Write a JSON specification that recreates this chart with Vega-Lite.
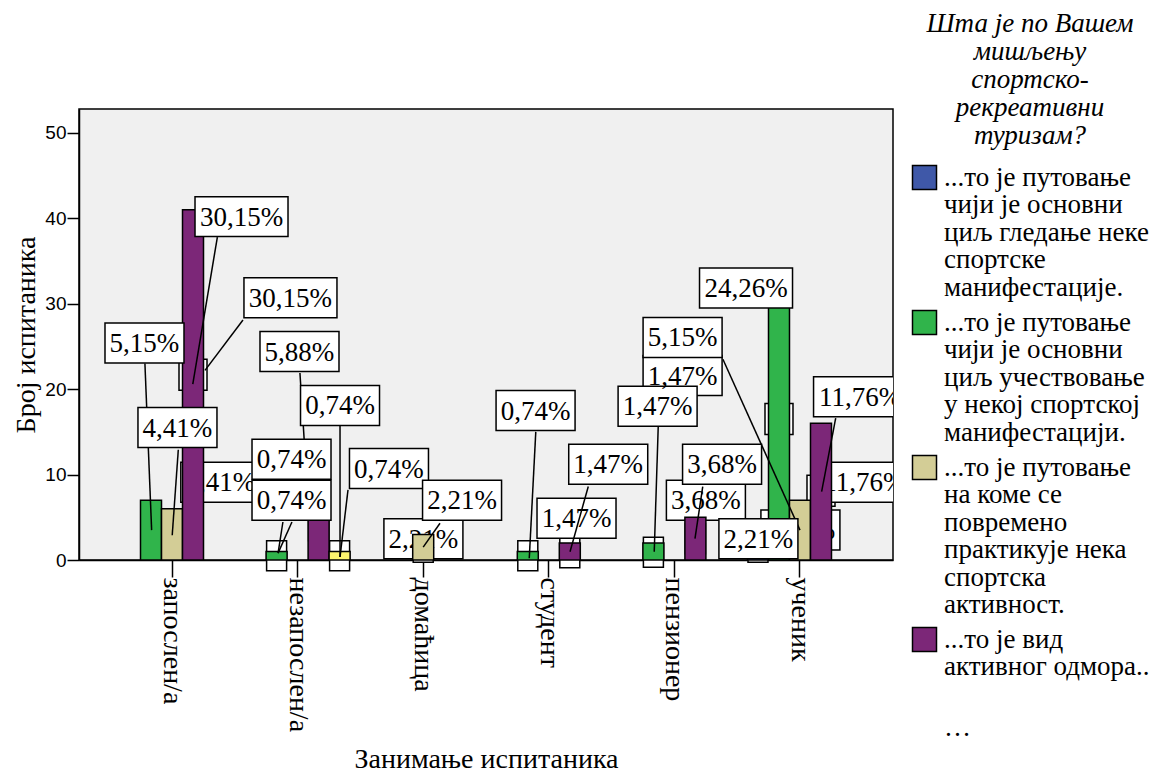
{
  "$schema": "https://vega.github.io/schema/vega-lite/v6.json",
  "width": 814,
  "height": 451,
  "padding": {"left": 12, "top": 11, "right": 0, "bottom": 0},
  "background": "white",
  "config": {
    "view": {"fill": "#f0f0f0", "stroke": "black", "strokeWidth": 1.5},
    "axis": {"domainColor": "black", "tickColor": "black", "labelColor": "black", "titleColor": "black", "grid": false, "titleFontWeight": "normal", "tickWidth": 1.5, "domainWidth": 1.5}
  },
  "datasets": {
    "bars": [
      {"cat": "запослен/а", "series": "...то је путовање\nчији је основни\nциљ учествовање\nу некој спортској\nманифестацији.", "v": 7},
      {"cat": "запослен/а", "series": "...то је путовање\nна коме се\nповремено\nпрактикује нека\nспортска\nактивност.", "v": 6},
      {"cat": "запослен/а", "series": "...то је вид\nактивног одмора..", "v": 41},
      {"cat": "незапослен/а", "series": "...то је путовање\nчији је основни\nциљ учествовање\nу некој спортској\nманифестацији.", "v": 1},
      {"cat": "незапослен/а", "series": "...то је вид\nактивног одмора..", "v": 8},
      {"cat": "незапослен/а", "series": "…", "v": 1},
      {"cat": "домаћица", "series": "...то је путовање\nна коме се\nповремено\nпрактикује нека\nспортска\nактивност.", "v": 3},
      {"cat": "студент", "series": "...то је путовање\nчији је основни\nциљ учествовање\nу некој спортској\nманифестацији.", "v": 1},
      {"cat": "студент", "series": "...то је вид\nактивног одмора..", "v": 2},
      {"cat": "пензионер", "series": "...то је путовање\nчији је основни\nциљ учествовање\nу некој спортској\nманифестацији.", "v": 2},
      {"cat": "пензионер", "series": "...то је вид\nактивног одмора..", "v": 5},
      {"cat": "ученик", "series": "...то је путовање\nчији је основни\nциљ гледање неке\nспортске\nманифестације.", "v": 3},
      {"cat": "ученик", "series": "...то је путовање\nчији је основни\nциљ учествовање\nу некој спортској\nманифестацији.", "v": 33},
      {"cat": "ученик", "series": "...то је путовање\nна коме се\nповремено\nпрактикује нека\nспортска\nактивност.", "v": 7},
      {"cat": "ученик", "series": "...то је вид\nактивног одмора..", "v": 16}
    ],
    "labels": [
      {"cat": "запослен/а", "s": 3.31, "v": 40.2, "t": "30,15%", "z": "top"},
      {"cat": "незапослен/а", "s": -0.34, "v": 30.7, "t": "30,15%", "z": "top"},
      {"cat": "запослен/а", "s": -1.31, "v": 25.4, "t": "5,15%", "z": "top"},
      {"cat": "запослен/а", "s": 0.26, "v": 15.5, "t": "4,41%", "z": "top"},
      {"cat": "запослен/а", "s": 2.3, "v": 9.1, "t": "4,41%", "z": "under"},
      {"cat": "незапослен/а", "s": -0.29, "v": 11.8, "t": "0,74%", "z": "top"},
      {"cat": "незапослен/а", "s": -0.29, "v": 7.0, "t": "0,74%", "z": "top"},
      {"cat": "незапослен/а", "s": 0.09, "v": 24.4, "t": "5,88%", "z": "top"},
      {"cat": "незапослен/а", "s": 2.02, "v": 18.1, "t": "0,74%", "z": "top"},
      {"cat": "домаћица", "s": -1.63, "v": 10.7, "t": "0,74%", "z": "top"},
      {"cat": "домаћица", "s": 1.85, "v": 7.0, "t": "2,21%", "z": "top"},
      {"cat": "домаћица", "s": 0.01, "v": 2.5, "t": "2,21%", "z": "under"},
      {"cat": "студент", "s": -0.63, "v": 17.5, "t": "0,74%", "z": "top"},
      {"cat": "студент", "s": 2.83, "v": 11.2, "t": "1,47%", "z": "top"},
      {"cat": "студент", "s": 1.32, "v": 4.9, "t": "1,47%", "z": "under"},
      {"cat": "пензионер", "s": 0.39, "v": 21.6, "t": "1,47%", "z": "top"},
      {"cat": "пензионер", "s": -0.8, "v": 18.0, "t": "1,47%", "z": "top"},
      {"cat": "пензионер", "s": 0.39, "v": 26.05, "t": "5,15%", "z": "top"},
      {"cat": "пензионер", "s": 2.27, "v": 11.2, "t": "3,68%", "z": "top"},
      {"cat": "пензионер", "s": 1.5, "v": 7.0, "t": "3,68%", "z": "under"},
      {"cat": "ученик", "s": -2.57, "v": 31.85, "t": "24,26%", "z": "top"},
      {"cat": "ученик", "s": -1.98, "v": 2.5, "t": "2,21%", "z": "top"},
      {"cat": "ученик", "s": 2.86, "v": 19.1, "t": "11,76%", "z": "top"},
      {"cat": "ученик", "s": 3.07, "v": 9.1, "t": "11,76%", "z": "under"},
      {"cat": "ученик", "s": 0.02, "v": 3.5, "t": "5,15%", "z": "under"}
    ],
    "anchors": [
      {"cat": "запослен/а", "s": -1, "v": 3.5},
      {"cat": "запослен/а", "s": 0, "v": 3.0},
      {"cat": "запослен/а", "s": 1, "v": 21.7},
      {"cat": "незапослен/а", "s": -1, "v": 0.5},
      {"cat": "незапослен/а", "s": 1, "v": 4.0},
      {"cat": "незапослен/а", "s": 2, "v": 0.5},
      {"cat": "домаћица", "s": 0, "v": 1.5},
      {"cat": "студент", "s": -1, "v": 0.5},
      {"cat": "студент", "s": 1, "v": 0.85},
      {"cat": "пензионер", "s": -1, "v": 0.9},
      {"cat": "пензионер", "s": 1, "v": 2.5},
      {"cat": "ученик", "s": -2, "v": 1.5},
      {"cat": "ученик", "s": -1, "v": 16.5},
      {"cat": "ученик", "s": 0, "v": 3.5},
      {"cat": "ученик", "s": 1, "v": 8.1}
    ],
    "leaders": [
      {"id": 1, "cat": "запослен/а", "s": 2.16, "v": 37.8}, {"id": 1, "cat": "запослен/а", "s": 0.99, "v": 20.6},
      {"id": 2, "cat": "запослен/а", "s": 3.38, "v": 28.1}, {"id": 2, "cat": "запослен/а", "s": 1.57, "v": 22.2},
      {"id": 3, "cat": "запослен/а", "s": -1.29, "v": 23.0}, {"id": 3, "cat": "запослен/а", "s": -0.97, "v": 3.5},
      {"id": 4, "cat": "запослен/а", "s": 0.3, "v": 12.9}, {"id": 4, "cat": "запослен/а", "s": 0.01, "v": 2.9},
      {"id": 5, "cat": "незапослен/а", "s": -0.7, "v": 4.45}, {"id": 5, "cat": "незапослен/а", "s": -0.93, "v": 0.8},
      {"id": 6, "cat": "незапослен/а", "s": -0.27, "v": 4.45}, {"id": 6, "cat": "незапослен/а", "s": -0.93, "v": 0.8},
      {"id": 7, "cat": "незапослен/а", "s": 0.11, "v": 21.9}, {"id": 7, "cat": "незапослен/а", "s": 0.55, "v": 5.0},
      {"id": 8, "cat": "незапослен/а", "s": 2.02, "v": 15.8}, {"id": 8, "cat": "незапослен/а", "s": 2.02, "v": 0.35},
      {"id": 9, "cat": "незапослен/а", "s": 2.4, "v": 8.2}, {"id": 9, "cat": "незапослен/а", "s": 2.02, "v": 0.35},
      {"id": 10, "cat": "домаћица", "s": 0.8, "v": 4.3}, {"id": 10, "cat": "домаћица", "s": 0, "v": 1.5},
      {"id": 11, "cat": "студент", "s": -0.62, "v": 15.0}, {"id": 11, "cat": "студент", "s": -0.93, "v": 0.2},
      {"id": 12, "cat": "студент", "s": 1.88, "v": 8.6}, {"id": 12, "cat": "студент", "s": 1.01, "v": 0.97},
      {"id": 13, "cat": "пензионер", "s": -0.77, "v": 15.6}, {"id": 13, "cat": "пензионер", "s": -0.96, "v": 0.97},
      {"id": 14, "cat": "пензионер", "s": 2.31, "v": 23.5}, {"id": 14, "cat": "ученик", "s": 0, "v": 3.5},
      {"id": 15, "cat": "пензионер", "s": 1.35, "v": 8.6}, {"id": 15, "cat": "пензионер", "s": 0.98, "v": 2.5},
      {"id": 16, "cat": "ученик", "s": 1.7, "v": 16.6}, {"id": 16, "cat": "ученик", "s": 1.03, "v": 8.0}
    ]
  },
  "encoding": {
    "x": {
      "field": "cat", "type": "nominal",
      "scale": {"domain": ["запослен/а", "незапослен/а", "домаћица", "студент", "пензионер", "ученик"], "paddingInner": 0.164, "paddingOuter": 0.3225},
      "axis": {"title": "Занимање испитаника", "labelAngle": 90, "labelAlign": "left", "labelBaseline": "middle", "labelFont": "Liberation Serif", "labelFontSize": 28, "tickSize": 17, "labelPadding": 0, "titleFont": "Liberation Serif", "titleFontSize": 28, "titlePadding": 14, "labelLimit": 300}
    },
    "y": {
      "field": "v", "type": "quantitative",
      "scale": {"domain": [0, 52.8], "nice": false},
      "axis": {"title": "Број испитаника", "values": [0, 10, 20, 30, 40, 50], "tickSize": 12, "labelPadding": 1, "labelFont": "Liberation Sans", "labelFontSize": 19, "titleFont": "Liberation Serif", "titleFontSize": 28, "titlePadding": 4}
    }
  },
  "resolve": {"scale": {"xOffset": "independent"}},
  "layer": [
    {
      "data": {"name": "anchors"},
      "mark": {"type": "point", "filled": true, "fill": "white", "stroke": "black", "strokeWidth": 1.5, "opacity": 1},
      "encoding": {
        "xOffset": {"field": "s", "type": "quantitative", "scale": {"domain": [-2.5, 2.5], "range": [0, 105], "nice": false, "zero": false}},
        "shape": {"condition": {"test": "datum.v > 5", "value": "M-1,-1.107H1V1.107H-1Z"}, "value": "M-1,-1.5H1V1.5H-1Z"},
        "size": {"condition": {"test": "datum.v > 5", "value": 784}, "value": 400}
      }
    },
    {
      "data": {"name": "labels"},
      "transform": [{"filter": "datum.z == 'under'"}],
      "mark": {"type": "point", "filled": true, "fill": "white", "stroke": "black", "strokeWidth": 1.5, "opacity": 1, "clip": true},
      "encoding": {
        "xOffset": {"field": "s", "type": "quantitative", "scale": {"domain": [-2.5, 2.5], "range": [0, 105], "nice": false, "zero": false}},
        "shape": {"condition": {"test": "length(datum.t) > 5", "value": "M-1,-0.43H1V0.43H-1Z"}, "value": "M-1,-0.506H1V0.506H-1Z"},
        "size": {"condition": {"test": "length(datum.t) > 5", "value": 8649}, "value": 6241}
      }
    },
    {
      "data": {"name": "labels"},
      "transform": [{"filter": "datum.z == 'under'"}],
      "mark": {"type": "text", "font": "Liberation Serif", "fontSize": 27, "baseline": "middle", "align": "center", "color": "black", "clip": true, "dy": 1},
      "encoding": {
        "xOffset": {"field": "s", "type": "quantitative", "scale": {"domain": [-2.5, 2.5], "range": [0, 105], "nice": false, "zero": false}},
        "text": {"field": "t", "type": "nominal"}
      }
    },
    {
      "data": {"name": "bars"},
      "mark": {"type": "bar", "stroke": "black", "strokeWidth": 1.5, "opacity": 1},
      "encoding": {
        "xOffset": {"field": "series", "type": "nominal", "scale": {"domain": ["...то је путовање\nчији је основни\nциљ гледање неке\nспортске\nманифестације.", "...то је путовање\nчији је основни\nциљ учествовање\nу некој спортској\nманифестацији.", "...то је путовање\nна коме се\nповремено\nпрактикује нека\nспортска\nактивност.", "...то је вид\nактивног одмора..", "…"], "paddingInner": 0, "paddingOuter": 0}},
        "color": {
          "field": "series", "type": "nominal",
          "scale": {"domain": ["...то је путовање\nчији је основни\nциљ гледање неке\nспортске\nманифестације.", "...то је путовање\nчији је основни\nциљ учествовање\nу некој спортској\nманифестацији.", "...то је путовање\nна коме се\nповремено\nпрактикује нека\nспортска\nактивност.", "...то је вид\nактивног одмора..", "…"], "range": ["#3f58a8", "#30b44b", "#d3cd96", "#7c2778", "#fcf46e"]},
          "legend": {
            "orient": "none", "legendX": 832, "legendY": -98,
            "title": ["Шта је по Вашем", "мишљењу", "спортско-", "рекреативни", "туризам?"],
            "titleFont": "Liberation Serif", "titleFontStyle": "italic", "titleFontWeight": "normal", "titleFontSize": 27, "titleLineHeight": 28, "titleAnchor": "middle", "titlePadding": 14, "titleColor": "black", "titleLimit": 500,
            "labelFont": "Liberation Serif", "labelFontSize": 27, "labelLimit": 500, "labelOffset": 6, "labelColor": "black",
            "labelExpr": "datum.label == '…' ? ['', '…'] : split(datum.label, '\\n')",
            "symbolType": "square", "symbolSize": 576, "symbolStrokeColor": "black", "symbolStrokeWidth": 1.5, "symbolOpacity": 1,
            "rowPadding": 6, "padding": 0,
            "encode": {
              "symbols": {"update": {"opacity": {"signal": "datum.value == '…' ? 0 : 1"}}},
              "labels": {"update": {"lineHeight": {"value": 27.5}}}
            }
          }
        }
      }
    },
    {
      "data": {"name": "leaders"},
      "mark": {"type": "line", "color": "black", "strokeWidth": 1.5},
      "encoding": {
        "xOffset": {"field": "s", "type": "quantitative", "scale": {"domain": [-2.5, 2.5], "range": [0, 105], "nice": false, "zero": false}},
        "detail": {"field": "id", "type": "nominal"}
      }
    },
    {
      "data": {"name": "labels"},
      "transform": [{"filter": "datum.z == 'top'"}],
      "mark": {"type": "point", "filled": true, "fill": "white", "stroke": "black", "strokeWidth": 1.5, "opacity": 1, "clip": true},
      "encoding": {
        "xOffset": {"field": "s", "type": "quantitative", "scale": {"domain": [-2.5, 2.5], "range": [0, 105], "nice": false, "zero": false}},
        "shape": {"condition": {"test": "length(datum.t) > 5", "value": "M-1,-0.43H1V0.43H-1Z"}, "value": "M-1,-0.506H1V0.506H-1Z"},
        "size": {"condition": {"test": "length(datum.t) > 5", "value": 8649}, "value": 6241}
      }
    },
    {
      "data": {"name": "labels"},
      "transform": [{"filter": "datum.z == 'top'"}],
      "mark": {"type": "text", "font": "Liberation Serif", "fontSize": 27, "baseline": "middle", "align": "center", "color": "black", "clip": true, "dy": 1},
      "encoding": {
        "xOffset": {"field": "s", "type": "quantitative", "scale": {"domain": [-2.5, 2.5], "range": [0, 105], "nice": false, "zero": false}},
        "text": {"field": "t", "type": "nominal"}
      }
    }
  ]
}
